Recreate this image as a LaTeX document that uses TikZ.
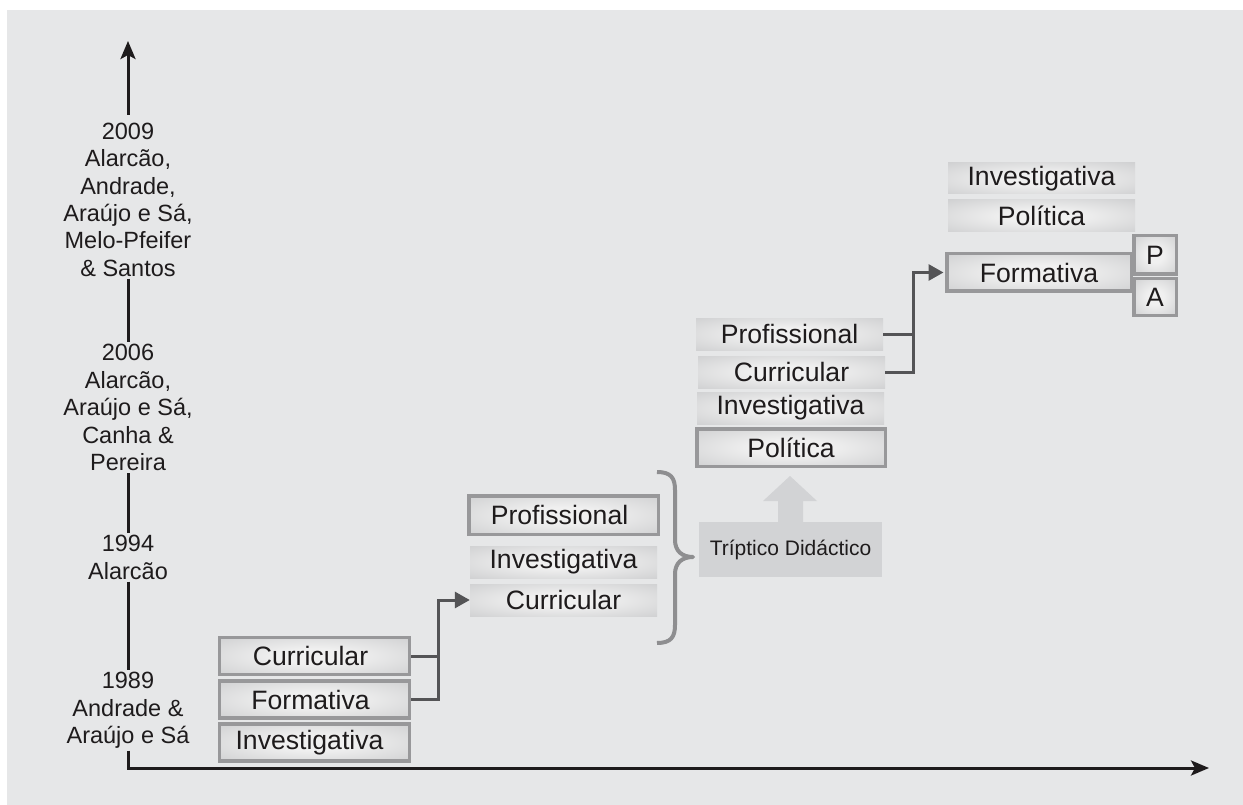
\documentclass[tikz,border=0pt]{standalone}
\usepackage{fontspec}
\setmainfont{Liberation Sans}
\usetikzlibrary{arrows.meta}
\definecolor{bg}{HTML}{E6E7E8}
\definecolor{ink}{HTML}{1E1B1C}
\definecolor{framec}{HTML}{98989A}
\definecolor{connc}{HTML}{545456}
\definecolor{bracec}{HTML}{8E8E90}
\definecolor{tripc}{HTML}{D2D3D5}
\definecolor{glowin}{HTML}{F0F0F0}
\definecolor{glowout}{HTML}{BFC0C2}
\pgfdeclareradialshading{glow}{\pgfpoint{0bp}{0bp}}{color(0bp)=(glowin); color(10bp)=(glowin); color(50bp)=(glowout); color(75bp)=(glowout)}
\newcommand\boxfont{\fontsize{26.6}{30}\selectfont}
\newcommand\axfont{\fontsize{23.5}{27.4}\selectfont}
\newcommand\tripfont{\fontsize{21}{24}\selectfont}
\begin{document}
\begin{tikzpicture}[x=1pt,y=-1pt,
  framed/.style={draw=framec, line width=3.5pt, shading=glow, text=ink, font=\boxfont, inner sep=0pt},
  plain/.style={shading=glow, minimum width=187pt, minimum height=32pt, text=ink, font=\boxfont, inner sep=0pt},
  axlab/.style={align=center, font=\axfont, text=ink, inner xsep=0pt, inner ysep=2pt},
  axis/.style={draw=ink, line width=3pt},
  conn/.style={draw=connc, line width=3pt},
  connarrow/.style={conn, -{Triangle[length=15pt,width=16pt]}},
  axarrow/.style={-{Stealth[length=18pt,width=15pt,inset=4pt]}}
]
\useasboundingbox (0,0) rectangle (1243,805);
\fill[bg] (7,10) rectangle (1243,805);

% axis labels
\node[axlab] (y2009) at (128,199.7) {2009\\Alarcão,\\Andrade,\\Araújo e Sá,\\Melo-Pfeifer\\\& Santos};
\node[axlab] (y2006) at (128,407.7) {2006\\Alarcão,\\Araújo e Sá,\\Canha \&\\Pereira};
\node[axlab] (y1994) at (128,557.5) {1994\\Alarcão};
\node[axlab] (y1989) at (128,710.5) {1989\\Andrade \&\\Araújo e Sá};
\coordinate (o) at (128,768);
\coordinate (ytip) at (128,41);
\coordinate (xtip) at (1209,768);

% axes
\draw[axis,axarrow] ([yshift=6pt]y2009.north) -- (ytip);
\draw[axis] (y2009.south) -- (y2006.north);
\draw[axis] (y2006.south) -- (y1994.north);
\draw[axis] (y1994.south) -- (y1989.north);
\draw[axis,axarrow,line join=miter] (y1989.south) -- (o) -- (xtip);

% group 1
\node[framed, minimum width=190pt, minimum height=37pt] (cur1) at (314.5,656) {Curricular\hspace*{8pt}};
\node[framed, minimum width=190pt, minimum height=37pt] (form1) at (314.5,699.5) {Formativa\hspace*{8pt}};
\node[framed, minimum width=190pt, minimum height=37pt] (inv1) at (314.5,742.5) {Investigativa\hspace*{10pt}};

% group 2
\node[framed, minimum width=189.5pt, minimum height=38.5pt] (prof2) at (563.5,515) {Profissional\hspace*{8pt}};
\node[plain] (inv2) at (563.5,562) {Investigativa};
\node[plain] (cur2) at (563.5,600) {Curricular};

% brace
\draw[draw=bracec, line width=4pt, line join=round]
  (657,472) .. controls (671,472) and (675,478) .. (675,490) -- (675,540)
  .. controls (675,551) and (682,557) .. (693,557)
  .. controls (682,557) and (675,563) .. (675,574) -- (675,625)
  .. controls (675,637) and (671,643) .. (657,643);

% triptico
\node[fill=tripc, minimum width=183pt, minimum height=55pt, inner sep=0pt, text=ink, font=\tripfont] (trip) at (790.5,549.5) {Tríptico Didáctico};
\fill[tripc] (trip.north -| 778,0) -- (778,501) -- (763,501) -- (790,476) -- (817,501) -- (803,501) -- (trip.north -| 803,0) -- cycle;

% group 3
\node[plain] (prof3) at (789.5,334) {Profissional};
\node[plain] (cur3) at (791.5,372) {Curricular};
\node[plain] (inv3) at (790.5,408) {Investigativa};
\node[framed, minimum width=188.5pt, minimum height=37.5pt] (pol3) at (791,447.5) {Política};

% group 4
\node[plain, minimum height=31pt] (inv4) at (1041.5,178.5) {Investigativa};
\node[plain] (pol4) at (1041.5,216) {Política};
\node[framed, minimum width=184.5pt, minimum height=37.5pt] (form4) at (1039,272.5) {Formativa};
\node[framed, minimum width=42.5pt, minimum height=38.5pt] (P) at (1155,255) {P};
\node[framed, minimum width=42.5pt, minimum height=36.5pt] (A) at (1155,297) {A};

% connectors
\coordinate (j1) at (438,600);
\draw[conn] (cur1.east) -- (cur1.east -| j1);
\draw[connarrow] (form1.east) -| (j1) -- (cur2.west);
\coordinate (j2) at (913,272.5);
\draw[conn] (prof3.east) -- (prof3.east -| j2);
\draw[connarrow, shorten >=1.5pt] (cur3.east) -| (j2) -- (form4.west);
\end{tikzpicture}
\end{document}
